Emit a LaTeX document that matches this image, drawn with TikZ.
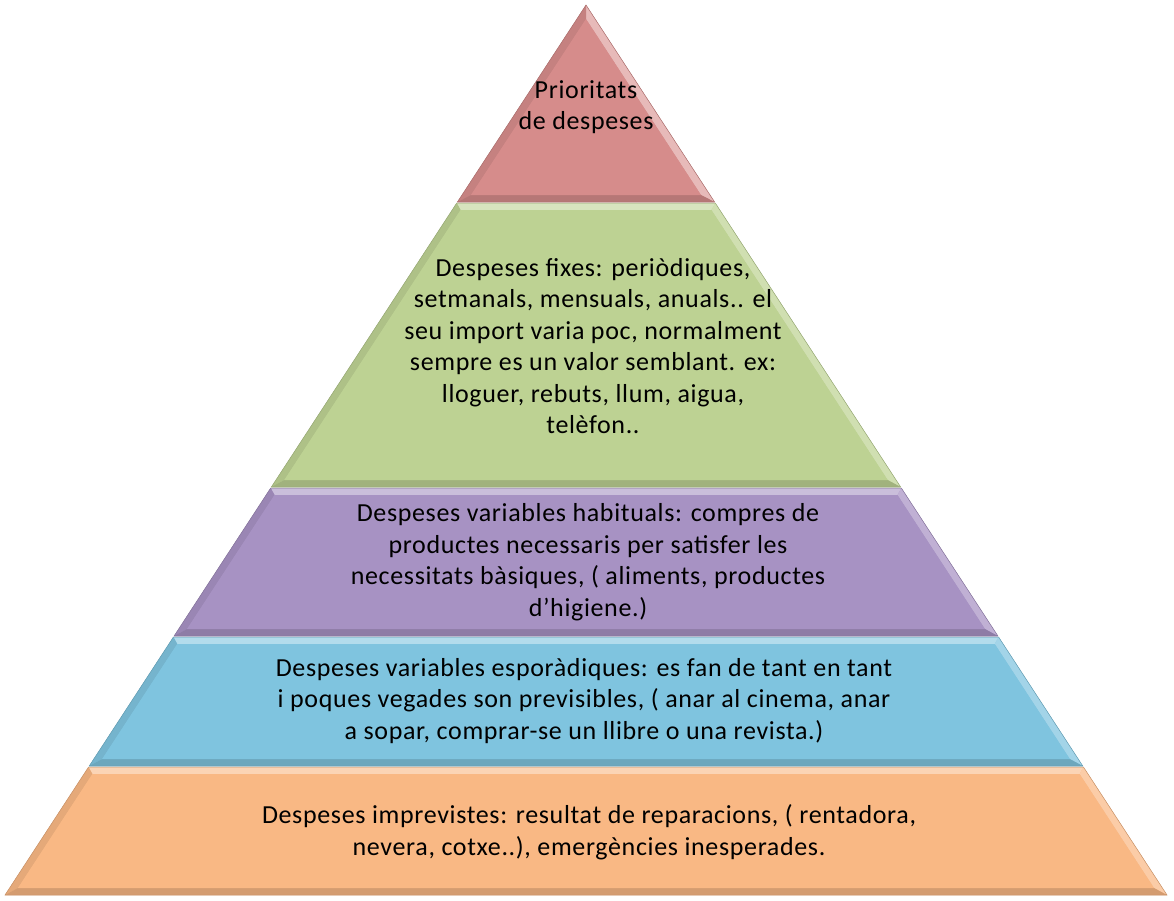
\documentclass[tikz,border=0pt]{standalone}
\usepackage{fontspec}
\defaultfontfeatures{}
\setmainfont{Carlito}[LetterSpace=2.5]
\definecolor{cred}{HTML}{D68C8B}
\definecolor{cgreen}{HTML}{BDD293}
\definecolor{cpurple}{HTML}{A792C3}
\definecolor{cblue}{HTML}{7FC4DF}
\definecolor{corange}{HTML}{F9B884}
\newcommand\pyrlayer[3]{% yt, yb, color
  \pgfmathsetmacro\xlt{586-0.6528*(#1-5)}%
  \pgfmathsetmacro\xrt{586+0.6528*(#1-5)}%
  \pgfmathsetmacro\xlb{586-0.6528*(#2-5)}%
  \pgfmathsetmacro\xrb{586+0.6528*(#2-5)}%
  \pgfmathsetmacro\yti{#1+7}%
  \pgfmathsetmacro\ybi{#2-7}%
  \pgfmathsetmacro\xlti{586-0.6528*(\yti-5)+8.4}%
  \pgfmathsetmacro\xrti{586+0.6528*(\yti-5)-8.4}%
  \pgfmathsetmacro\xlbi{586-0.6528*(\ybi-5)+8.4}%
  \pgfmathsetmacro\xrbi{586+0.6528*(\ybi-5)-8.4}%
  \fill[#3] (\xlt,#1) -- (\xrt,#1) -- (\xrb,#2) -- (\xlb,#2) -- cycle;
  \fill[#3!60!white] (\xlt,#1) -- (\xrt,#1) -- (\xrti,\yti) -- (\xlti,\yti) -- cycle;
  \fill[#3!72!white] (\xrt,#1) -- (\xrb,#2) -- (\xrbi,\ybi) -- (\xrti,\yti) -- cycle;
  \fill[#3!92!black] (\xlt,#1) -- (\xlti,\yti) -- (\xlbi,\ybi) -- (\xlb,#2) -- cycle;
  \fill[#3!85!black] (\xlb,#2) -- (\xlbi,\ybi) -- (\xrbi,\ybi) -- (\xrb,#2) -- cycle;
  \fill[#3] (\xlti,\yti) -- (\xrti,\yti) -- (\xrbi,\ybi) -- (\xlbi,\ybi) -- cycle;
  \draw[#3!80!black, line width=0.5pt] (\xlt,#1) -- (\xrt,#1) -- (\xrb,#2) -- (\xlb,#2) -- cycle;
}
\tikzset{
  lbl/.style={align=center, text=black, font=\fontsize{26}{31.5}\selectfont, inner sep=0pt}
}
\begin{document}
\begin{tikzpicture}[x=1pt,y=-1pt]
\useasboundingbox (0,0) rectangle (1174,900);
% top triangle
\fill[cred] (586,5) -- (457.4,202) -- (714.6,202) -- cycle;
\fill[cred!60!white] (586,5) -- (714.6,202) -- (701,195) -- (586,19) -- cycle;
\fill[cred!92!black] (586,5) -- (586,19) -- (471,195) -- (457.4,202) -- cycle;
\fill[cred!85!black] (457.4,202) -- (471,195) -- (701,195) -- (714.6,202) -- cycle;
\fill[cred] (586,19) -- (701,195) -- (471,195) -- cycle;
\draw[cred!80!black, line width=0.5pt] (586,5) -- (714.6,202) -- (457.4,202) -- cycle;
\pyrlayer{203}{487}{cgreen}
\pyrlayer{488}{636}{cpurple}
\pyrlayer{637}{766}{cblue}
\pyrlayer{767}{895}{corange}
\node[lbl] (top) at (586,107) {Prioritats\\de despeses};
\node[lbl] (fixes) at (593,346) {Despeses fixes: periòdiques,\\setmanals, mensuals, anuals.. el\\seu import varia poc, normalment\\sempre es un valor semblant. ex:\\lloguer, rebuts, llum, aigua,\\telèfon..};
\node[lbl] (habit) at (588,562) {Despeses variables habituals: compres de\\productes necessaris per satisfer les\\necessitats bàsiques, ( aliments, productes\\d'higiene.)};
\node[lbl] (espor) at (584,701) {Despeses variables esporàdiques: es fan de tant en tant\\i poques vegades son previsibles, ( anar al cinema, anar\\a sopar, comprar-se un llibre o una revista.)};
\node[lbl] (impr) at (589,832) {Despeses imprevistes: resultat de reparacions, ( rentadora,\\nevera, cotxe..), emergències inesperades.};
\end{tikzpicture}
\end{document}
